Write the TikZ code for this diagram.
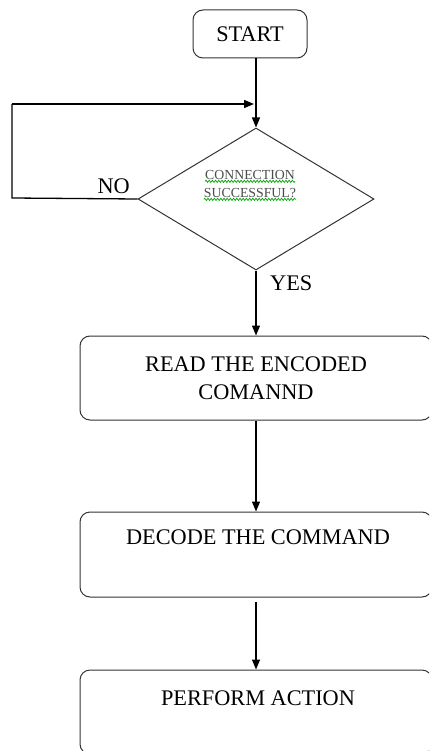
\documentclass[tikz,border=0pt]{standalone}
\usepackage{fontspec}
\setmainfont{Liberation Serif}
\usetikzlibrary{shapes.geometric,arrows.meta,decorations.pathmorphing}

\begin{document}
\begin{tikzpicture}[x=1pt,y=-1pt,
  every node/.style={font=\fontsize{22.3}{28}\selectfont},
  procbox/.style={draw=black!80,line width=1pt,rounded corners=10pt,inner sep=0pt},
  decision/.style={draw=black!80,line width=1pt,diamond,aspect=1.66,inner sep=0pt,
    minimum width=236pt,minimum height=142pt},
  flow/.style={line width=1.3pt,-{Triangle[length=10pt,width=8pt]}},
  plainline/.style={line width=1.3pt},
  smalltxt/.style={font=\fontsize{13.8}{18}\selectfont,text=black!70,inner sep=0pt},
  spell/.style={draw=green!65!black,line width=0.7pt,
    decorate,decoration={snake,amplitude=1.1pt,segment length=3.2pt}},
  tag/.style={inner sep=0pt}]

\useasboundingbox (0,0) rectangle (429,751);
\clip (0,0) rectangle (429,751);

% start terminal
\node[procbox,minimum width=114pt,minimum height=48pt] (start) at (250,34) {START};

% decision
\node[decision] (dia) at (256,199) {};
\node[smalltxt] (c1) at (250,175) {CONNECTION};
\node[smalltxt] (c2) at (250,193) {SUCCESSFUL?};
\draw[spell] ([yshift=-1.5pt]c1.south west) -- ([yshift=-1.5pt]c1.south east);
\draw[spell] ([yshift=-1.5pt]c2.south west) -- ([yshift=-1.5pt]c2.south east);

% process boxes
\node[procbox,minimum width=352pt,minimum height=84pt,align=center] (read) at (256,378)
  {READ THE ENCODED\\COMANND};
\node[procbox,minimum width=352pt,minimum height=85pt] (decode) at (256,554.5) {};
\node[tag] (dtext) at (258,537) {DECODE THE COMMAND};
\node[procbox,minimum width=352pt,minimum height=84pt] (perform) at (256,712) {};
\node[tag] (ptext) at (258,698) {PERFORM ACTION};

% labels
\node[tag,anchor=east] (no) at (130,186) {NO};
\node[tag,anchor=west] (yes) at (270,283) {YES};

% connectors
\coordinate (loopL) at (12,198);
\coordinate (loopT) at (12,104);
\coordinate (loopR) at (254,104);
\draw[flow] (dia.north |- start.south) -- (dia.north);
\draw[plainline] (dia.west) -- (loopL) -- (loopT);
\draw[flow] (loopT) -- (loopR);
\draw[flow] (dia.south) -- (dia.south |- read.north);
\draw[flow] (dia.south |- read.south) -- (dia.south |- decode.north);
\draw[flow] ([yshift=-4pt]dia.south |- decode.south) -- (dia.south |- perform.north);

\end{tikzpicture}
\end{document}
